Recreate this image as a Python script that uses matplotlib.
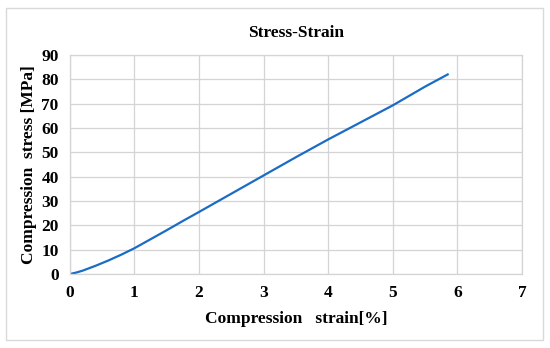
import matplotlib
matplotlib.use("Agg")
import matplotlib.pyplot as plt
from matplotlib.patches import Rectangle
import numpy as np

# values
strain = [0, 0.1, 0.2, 0.3, 0.4, 0.6, 0.8, 1.0, 1.25, 1.5, 1.75, 2.0, 2.5,
          3.0, 3.5, 4.0, 4.5, 5.0, 5.5, 5.85]
stress = [0, 0.6, 1.4, 2.4, 3.4, 5.6, 8.0, 10.6, 14.3, 18.0, 21.8, 25.5, 33.0,
          40.5, 48.0, 55.3, 62.3, 69.3, 77.0, 82.0]
xticks = [0, 1, 2, 3, 4, 5, 6, 7]
yticks = [0, 10, 20, 30, 40, 50, 60, 70, 80, 90]

plt.rcParams['font.family'] = ['Liberation Serif', 'DejaVu Serif']
plt.rcParams['font.weight'] = 'bold'

fig = plt.figure(figsize=(5.5, 3.48), dpi=100)
ax = fig.add_axes([0.127, 0.2126, 0.822, 0.6294])

# outer chart frame
fig.patches.append(Rectangle((6 / 550, 8 / 348), 537 / 550, 332 / 348,
                             transform=fig.transFigure, fill=False,
                             edgecolor='#d9d9d9', linewidth=1.0))

ax.plot(strain, stress, color='#1a6cc4', linewidth=1.6)

ax.set_xlim(0, 7)
ax.set_ylim(0, 90)
ax.set_xticks(xticks)
ax.set_yticks(yticks)
ax.tick_params(length=0, labelsize=12.5, pad=8)
for lab in ax.get_xticklabels() + ax.get_yticklabels():
    lab.set_fontweight('bold')
ax.grid(True, color='#d4d4d4', linewidth=0.9)
for s in ax.spines.values():
    s.set_color('#d4d4d4')
    s.set_linewidth(0.9)

ax.set_xlabel('Compression   strain[%]', fontsize=12.5, fontweight='bold', labelpad=7)
ax.set_ylabel('Compression  stress [MPa]', fontsize=12.5, fontweight='bold', labelpad=3)
ax.set_title('Stress-Strain', fontsize=12.5, fontweight='bold', pad=13)

fig.savefig('out.png', dpi=100)
